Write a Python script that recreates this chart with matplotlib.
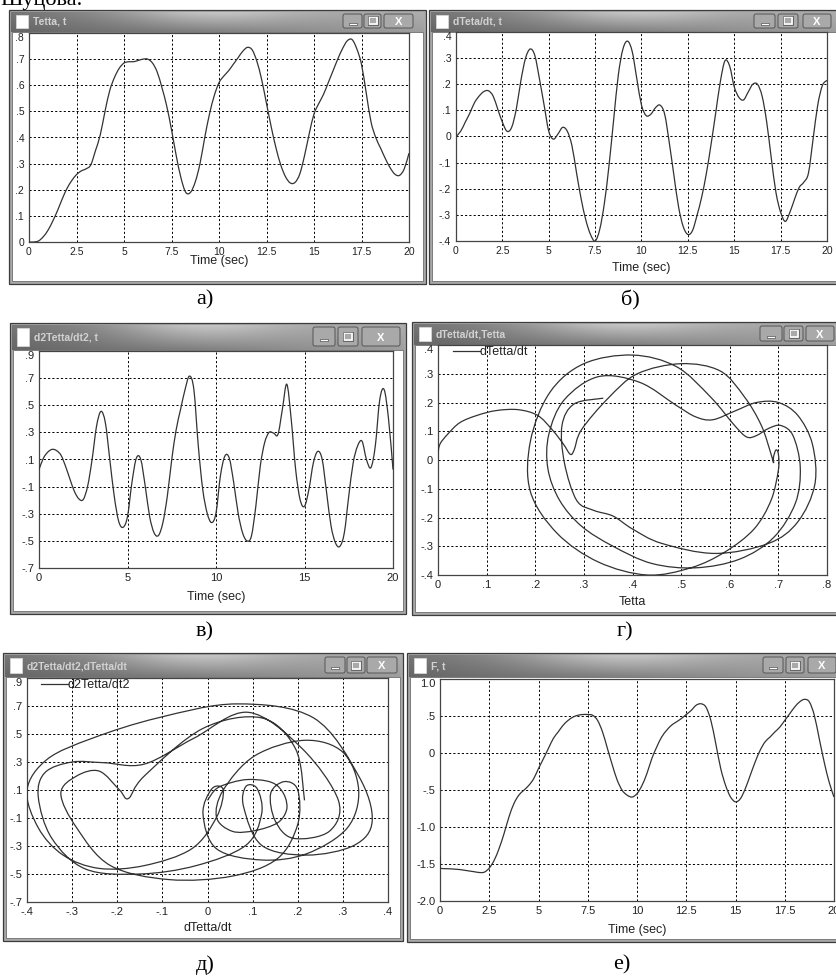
import numpy as np
import matplotlib
matplotlib.use("Agg")
import matplotlib.pyplot as plt
from matplotlib.patches import Rectangle, FancyBboxPatch, PathPatch
from matplotlib.path import Path
from matplotlib.lines import Line2D

# ---------------- data ----------------
TIME = np.arange(0, 20.001, 0.25)

THETA = [0.000, 0.000, 0.004, 0.020, 0.045, 0.080, 0.120, 0.165, 0.205, 0.235,
         0.258, 0.272, 0.280, 0.295, 0.350, 0.410, 0.500, 0.580, 0.630, 0.665,
         0.685, 0.690, 0.690, 0.695, 0.700, 0.700, 0.685, 0.650, 0.590, 0.520,
         0.430, 0.330, 0.245, 0.190, 0.190, 0.230, 0.300, 0.400, 0.490, 0.560,
         0.610, 0.635, 0.655, 0.680, 0.705, 0.730, 0.745, 0.735, 0.690, 0.620,
         0.530, 0.440, 0.360, 0.295, 0.250, 0.226, 0.228, 0.260, 0.330, 0.415,
         0.490, 0.530, 0.565, 0.610, 0.655, 0.700, 0.740, 0.770, 0.775, 0.740,
         0.680, 0.570, 0.460, 0.400, 0.360, 0.320, 0.285, 0.260, 0.255, 0.280,
         0.340]

DTHETA = [0.000, 0.020, 0.055, 0.090, 0.130, 0.155, 0.172, 0.175, 0.155, 0.105,
          0.055, 0.020, 0.035, 0.105, 0.215, 0.300, 0.335, 0.310, 0.220, 0.120,
          0.020, -0.010, 0.010, 0.035, 0.020, -0.035, -0.140, -0.240, -0.320, -0.375,
          -0.400, -0.355, -0.255, -0.110, 0.065, 0.235, 0.335, 0.365, 0.325, 0.220,
          0.120, 0.080, 0.085, 0.110, 0.120, 0.085, -0.025, -0.150, -0.270, -0.345,
          -0.375, -0.360, -0.300, -0.230, -0.140, -0.030, 0.090, 0.210, 0.290, 0.270,
          0.190, 0.150, 0.140, 0.170, 0.200, 0.200, 0.155, 0.055, -0.085, -0.215,
          -0.290, -0.325, -0.290, -0.240, -0.195, -0.175, -0.140, -0.010, 0.120, 0.195,
          0.215]

D2THETA = [0.026, 0.110, 0.155, 0.175, 0.165, 0.130, 0.050, -0.045, -0.135, -0.190,
           -0.195, -0.095, 0.100, 0.345, 0.455, 0.370, 0.100, -0.170, -0.355, -0.400,
           -0.320, -0.070, 0.110, 0.100, -0.095, -0.320, -0.440, -0.460, -0.365, -0.170,
           0.100, 0.320, 0.470, 0.615, 0.715, 0.615, 0.200, -0.120, -0.295, -0.365,
           -0.295, -0.020, 0.125, 0.110, -0.070, -0.295, -0.440, -0.500, -0.465, -0.245,
           0.050, 0.225, 0.300, 0.295, 0.285, 0.470, 0.655, 0.395, 0.026, -0.195,
           -0.245, -0.120, 0.075, 0.160, 0.100, -0.145, -0.390, -0.515, -0.540, -0.440,
           -0.170, 0.075, 0.200, 0.235, 0.100, 0.040, 0.200, 0.540, 0.615, 0.395,
           0.026]

F_TIME = [0.0, 0.02, 0.25, 0.5, 0.75, 1.0, 1.25, 1.5, 1.75, 2.0, 2.25, 2.5, 2.75,
          3.0, 3.25, 3.5, 3.75, 4.0, 4.25, 4.5, 4.75, 5.0, 5.25, 5.5, 5.75, 6.0,
          6.25, 6.5, 6.75, 7.0, 7.25, 7.5, 7.75, 8.0, 8.25, 8.5, 8.75, 9.0, 9.25,
          9.5, 9.75, 10.0, 10.25, 10.5, 10.75, 11.0, 11.25, 11.5, 11.75, 12.0,
          12.25, 12.5, 12.75, 13.0, 13.25, 13.5, 13.75, 14.0, 14.25, 14.5, 14.75,
          15.0, 15.25, 15.5, 15.75, 16.0, 16.25, 16.5, 16.75, 17.0, 17.25, 17.5,
          17.75, 18.0, 18.25, 18.5, 18.75, 19.0, 19.25, 19.5, 19.75, 20.0]
F_VALUES = [-1.40, -1.56, -1.563, -1.565, -1.570, -1.575, -1.585, -1.595, -1.605, -1.615,
            -1.610, -1.555, -1.450, -1.290, -1.090, -0.865, -0.685, -0.570, -0.505, -0.440,
            -0.350, -0.210, -0.077, 0.060, 0.195, 0.285, 0.375, 0.440, 0.485, 0.510,
            0.520, 0.520, 0.510, 0.440, 0.285, 0.060, -0.165, -0.370, -0.505, -0.570,
            -0.595, -0.550, -0.440, -0.280, -0.077, 0.080, 0.215, 0.305, 0.375, 0.420,
            0.465, 0.520, 0.575, 0.645, 0.665, 0.620, 0.440, 0.125, -0.210, -0.440,
            -0.595, -0.660, -0.617, -0.480, -0.300, -0.120, 0.036, 0.150, 0.215, 0.285,
            0.350, 0.440, 0.530, 0.620, 0.690, 0.725, 0.690, 0.510, 0.195, -0.120,
            -0.390, -0.595]

WINDOW_TITLES = ["Tetta, t", "dTeta/dt, t", "d2Tetta/dt2, t",
                 "dTetta/dt,Tetta", "d2Tetta/dt2,dTetta/dt", "F, t"]
PANEL_LETTERS = ["а)", "б)", "в)", "г)", "д)", "е)"]
TIME_TICKS_25 = [0, 2.5, 5, 7.5, 10, 12.5, 15, 17.5, 20]
TIME_TICKS_5 = [0, 5, 10, 15, 20]
TETTA_TICKS = [0, .1, .2, .3, .4, .5, .6, .7, .8]
DTETTA_TICKS = [-.4, -.3, -.2, -.1, 0, .1, .2, .3, .4]
D2_TICKS = [-.7, -.5, -.3, -.1, .1, .3, .5, .7, .9]
F_TICKS = [-2.0, -1.5, -1.0, -.5, 0, .5, 1.0]

# ---------------- figure ----------------
W, H = 836, 980
fig = plt.figure(figsize=(W / 100, H / 100), dpi=100)
fig.patch.set_facecolor("white")

SANS = ["Liberation Sans", "DejaVu Sans"]
SERIF = ["Liberation Serif", "DejaVu Serif"]
LINE_C = "#333333"
LW = 0.9

bg = fig.add_axes([0, 0, 1, 1])
bg.set_xlim(0, W)
bg.set_ylim(H, 0)
bg.axis("off")


def short(v):
    if abs(v) < 1e-9:
        return "0"
    s = f"{v:.1f}"
    if abs(v) < 1:
        s = s.replace("0.", ".")
    return s


def tlabel(v):
    return f"{v:g}"


def smooth_curve(ax, x, y, straight_first=False, label=None):
    """Draw a smooth (Bezier) curve through the read points."""
    P = np.column_stack([np.asarray(x, float), np.asarray(y, float)])
    start = 1 if straight_first else 0
    verts = [P[0]]
    codes = [Path.MOVETO]
    if straight_first:
        verts.append(P[1])
        codes.append(Path.LINETO)
    n = len(P)
    for i in range(start, n - 1):
        p0 = P[i - 1] if i > start else P[i]
        p1, p2 = P[i], P[i + 1]
        p3 = P[i + 2] if i + 2 < n else P[i + 1]
        verts += [p1 + (p2 - p0) / 6.0, p2 - (p3 - p1) / 6.0, p2]
        codes += [Path.CURVE4] * 3
    ax.add_patch(PathPatch(Path(verts, codes), facecolor="none",
                           edgecolor=LINE_C, lw=LW, zorder=3, label=label))


title_grad = np.zeros((12, 200, 3))
for i in range(12):
    for j in range(200):
        base = 0.40 + 0.22 * (j / 199)
        hi = 0.20 * np.exp(-((j - 95) / 45.0) ** 2) * (1 - i / 11)
        title_grad[i, j, :] = min(base + hi + 0.06 * (1 - i / 11), 0.95)


def window(x0, y0, x1, y1, tb, title, btn):
    bg.add_patch(Rectangle((x0, y0), x1 - x0, y1 - y0, facecolor="#a8a8a8",
                           edgecolor="#3c3c3c", lw=0.9, zorder=1))
    bg.imshow(title_grad, extent=(x0 + 2, x1 - 2, y0 + tb, y0 + 2),
              aspect="auto", zorder=2, interpolation="bilinear")
    bg.add_patch(Rectangle((x0 + 3, y0 + tb), x1 - x0 - 6, y1 - y0 - tb - 3,
                           facecolor="white", edgecolor="#6e6e6e", lw=0.6, zorder=2))
    bg.add_patch(Rectangle((x0 + 7, y0 + 5), 12, tb - 9, facecolor="white",
                           edgecolor="#dddddd", lw=0.5, zorder=3))
    bg.text(x0 + 24, y0 + tb / 2 + 1, title, fontsize=7.5, fontweight="bold",
            color="#d2d2d2", va="center", ha="left", family=SANS, zorder=3)
    mn, mx, cl = btn
    for (a, b), sym in zip([mn, mx, cl], ["min", "max", "close"]):
        bg.add_patch(FancyBboxPatch((a, y0 + 4), b - a, tb - 8,
                                    boxstyle="round,pad=0,rounding_size=2",
                                    facecolor="#a9a9a9", edgecolor="#555555",
                                    lw=0.7, zorder=3))
        cx, cy = (a + b) / 2, y0 + tb / 2
        if sym == "min":
            bg.add_patch(Rectangle((cx - 4, cy + 2), 8, 2, facecolor="white",
                                   edgecolor="#333", lw=0.4, zorder=4))
        elif sym == "max":
            bg.add_patch(Rectangle((cx - 4, cy - 3.5), 8, 7, facecolor="none",
                                   edgecolor="white", lw=1.2, zorder=4))
            bg.add_patch(Rectangle((cx - 5, cy - 4.5), 10, 9, facecolor="none",
                                   edgecolor="#333", lw=0.4, zorder=4))
        else:
            bg.text(cx, cy + 1, "X", fontsize=8, fontweight="bold", color="white",
                    ha="center", va="center", family=SANS, zorder=4)


def make_axes(box, tsize=8):
    x0, y0, x1, y1 = box
    ax = fig.add_axes([x0 / W, 1 - y1 / H, (x1 - x0) / W, (y1 - y0) / H])
    ax.set_facecolor("white")
    for s in ax.spines.values():
        s.set_color("#444444")
        s.set_linewidth(0.9)
    ax.grid(True, color="black", linestyle=(0, (2.2, 2.2)), linewidth=0.7)
    ax.tick_params(length=0, labelsize=tsize, colors="#222222", pad=3.5)
    return ax


def setup(ax, xticks, xlabels, yticks, ylabels, xlim, ylim, xlabel, label_y):
    ax.set_xlim(*xlim)
    ax.set_ylim(*ylim)
    ax.set_xticks(xticks, xlabels)
    ax.set_yticks(yticks, ylabels)
    for lab in ax.get_xticklabels() + ax.get_yticklabels():
        lab.set_family(SANS)
    ax.get_yticklabels()[-1].set_verticalalignment("top")
    ax.set_xlabel(xlabel, fontsize=9, family=SANS, color="#222222")
    ax.xaxis.set_label_coords(0.5, label_y)
    ax.xaxis.label.set_verticalalignment("center")


def legend(ax, label, xoff):
    ax.legend(handles=[Line2D([], [], color=LINE_C, lw=LW)], labels=[label],
              loc="upper left", bbox_to_anchor=(xoff, 1.0), frameon=False,
              borderaxespad=0, borderpad=0.1, handlelength=2.1, handletextpad=0,
              prop={"family": SANS, "size": 9}, labelcolor="#222222")


# ---- windows ----
window(9, 10, 426, 284, 22, WINDOW_TITLES[0], [(343, 362), (364, 381), (384, 413)])
window(429, 10, 845, 284, 22, WINDOW_TITLES[1], [(754, 775), (778, 798), (803, 831)])
window(10, 323, 406, 614, 27, WINDOW_TITLES[2], [(313, 335), (338, 358), (362, 400)])
window(412, 322, 845, 615, 23, WINDOW_TITLES[3], [(760, 782), (784, 803), (806, 834)])
window(3, 653, 403, 941, 24, WINDOW_TITLES[4], [(325, 345), (347, 365), (367, 397)])
window(407, 653, 845, 942, 24, WINDOW_TITLES[5], [(763, 783), (786, 804), (808, 836)])

# ---- a) Tetta vs t ----
ax = make_axes((29, 33, 409, 242), 7.5)
smooth_curve(ax, TIME, THETA)
setup(ax, TIME_TICKS_25, [tlabel(v) for v in TIME_TICKS_25], TETTA_TICKS,
      [short(v) for v in TETTA_TICKS], (0, 20), (0, 0.8), "Time (sec)", -19 / 209)

# ---- б) dTetta/dt vs t ----
ax = make_axes((456, 32, 827, 241), 7.5)
smooth_curve(ax, TIME, DTHETA)
setup(ax, TIME_TICKS_25, [tlabel(v) for v in TIME_TICKS_25], DTETTA_TICKS,
      [short(v) for v in DTETTA_TICKS], (0, 20), (-0.4, 0.4), "Time (sec)", -27 / 209)

# ---- в) d2Tetta/dt2 vs t ----
ax = make_axes((39, 351, 393, 568))
smooth_curve(ax, TIME, D2THETA)
setup(ax, TIME_TICKS_5, [tlabel(v) for v in TIME_TICKS_5], D2_TICKS,
      [short(v) for v in D2_TICKS], (0, 20), (-0.7, 0.9), "Time (sec)", -29 / 217)

# ---- г) dTetta/dt vs Tetta ----
ax = make_axes((438, 345, 827, 575))
smooth_curve(ax, THETA, DTHETA, label="dTetta/dt")
setup(ax, TETTA_TICKS, [short(v) for v in TETTA_TICKS], DTETTA_TICKS,
      [short(v) for v in DTETTA_TICKS], (0, 0.8), (-0.4, 0.4), "Tetta", -27 / 230)
legend(ax, "dTetta/dt", 14 / 389)

# ---- д) d2Tetta/dt2 vs dTetta/dt ----
ax = make_axes((27, 678, 388, 902))
smooth_curve(ax, DTHETA, D2THETA, label="d2Tetta/dt2")
setup(ax, DTETTA_TICKS, [short(v) for v in DTETTA_TICKS], D2_TICKS,
      [short(v) for v in D2_TICKS], (-0.4, 0.4), (-0.7, 0.9), "dTetta/dt", -26 / 224)
legend(ax, "d2Tetta/dt2", 13 / 361)

# ---- е) F vs t ----
ax = make_axes((440, 679, 834, 901))
smooth_curve(ax, F_TIME, F_VALUES, straight_first=True)
setup(ax, TIME_TICKS_25, [tlabel(v) for v in TIME_TICKS_25], F_TICKS,
      [short(v) for v in F_TICKS], (0, 20), (-2.0, 1.0), "Time (sec)", -29 / 222)

# ---- captions ----
for (x, y), s in zip([(205, 300), (630, 300), (205, 632), (625, 632), (205, 965), (622, 965)],
                     PANEL_LETTERS):
    bg.text(x, y, s, fontsize=16, family=SERIF, ha="center", va="center", color="black")
bg.text(0, 5, "Шуцова.", fontsize=16, family=SERIF, ha="left", va="baseline", color="black")

fig.savefig("out.png", dpi=100)
